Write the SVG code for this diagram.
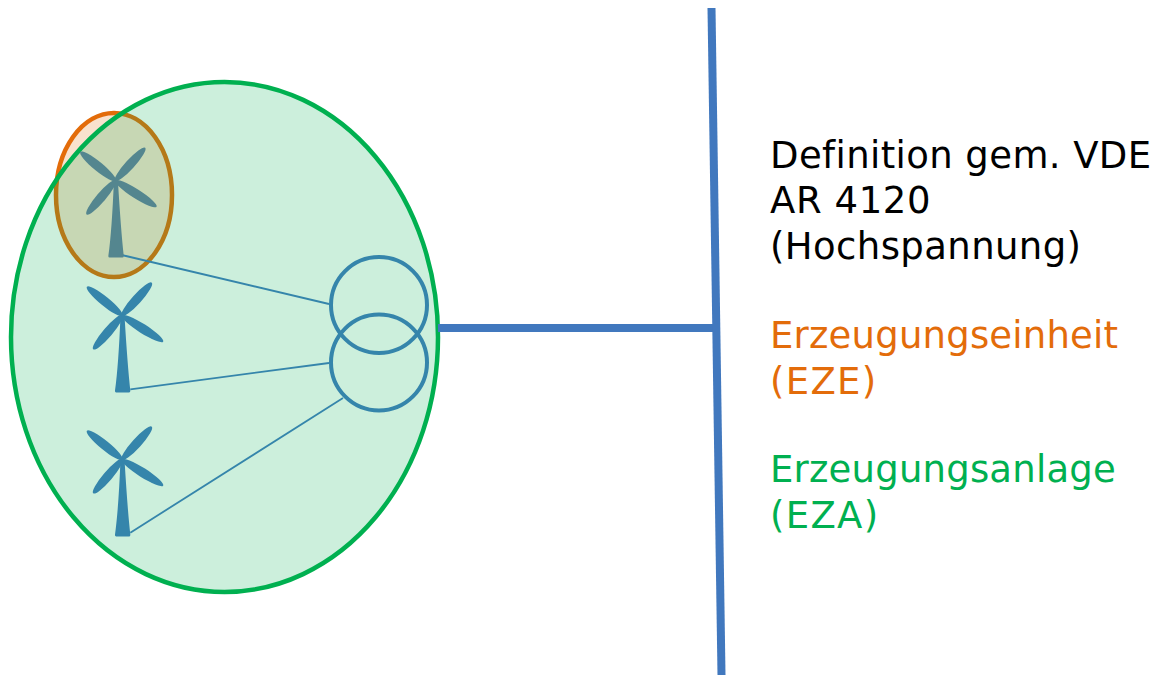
<svg xmlns="http://www.w3.org/2000/svg" width="1157" height="675" viewBox="0 0 1157 675">
<defs>
<g id="wt">
<path d="M-1.500 0 L2.500 0 Q5.500 50 8.300 75 Q8.500 77 7 77 L-5.800 77 Q-7.300 77 -7 75 Q-3.500 50 -1.500 0 Z"/>
<ellipse cx="-17.300" cy="-14.200" rx="23" ry="4.600" transform="rotate(39.200 -17.300 -14.200)"/>
<ellipse cx="14.700" cy="-16.200" rx="22.500" ry="4.600" transform="rotate(-47.800 14.700 -16.200)"/>
<ellipse cx="-14.200" cy="16.700" rx="22.500" ry="4.600" transform="rotate(-49.500 -14.200 16.700)"/>
<ellipse cx="20.500" cy="13" rx="24.500" ry="4.600" transform="rotate(32.400 20.500 13)"/>
</g>
</defs>
<style>
text{font-family:"DejaVu Sans",Verdana,sans-serif;font-size:37px;letter-spacing:.2px}
.t{fill:#3585ab}
.l{fill:none;stroke:#3585ab;stroke-width:1.800}
.w1{letter-spacing:.4px}
.w2{letter-spacing:.6px}
.w3{letter-spacing:1.300px}
</style>
<g id="eze"><ellipse cx="114" cy="195" rx="58" ry="82" fill="#e36c0a" fill-opacity=".2" stroke="#e36c0a" stroke-width="4.500"/></g>
<g id="eza"><ellipse cx="224.500" cy="337" rx="213.500" ry="255" fill="#00b050" fill-opacity=".2" stroke="#00b050" stroke-width="4.500"/></g>
<g id="connectors">
<path class="l" d="M121.700 255 L329 304 M130.300 389.300 L329 363 M130.300 532.700 L343 398"/>
<path d="M438 328 H716" fill="none" stroke="#4178be" stroke-width="8"/>
<path d="M711.500 8 L721.500 675" fill="none" stroke="#4178be" stroke-width="8"/>
</g>
<g id="turbine1" fill="#54868f"><use href="#wt" x="115.400" y="180.600"/></g>
<g id="turbine2" class="t"><use href="#wt" x="122" y="315.500"/></g>
<g id="turbine3" class="t"><use href="#wt" x="122" y="459.500"/></g>
<g id="transformer" fill="none" stroke="#3585ab" stroke-width="4">
<circle cx="379" cy="305" r="48"/><circle cx="379" cy="362.500" r="48"/>
</g>
<g id="labels">
<text x="770" y="168" class="w1">Definition gem. VDE</text>
<text x="770" y="213" class="w2">AR 4120</text>
<text x="770" y="259" class="w1">(Hochspannung)</text>
<text x="770" y="348" fill="#e36c0a">Erzeugungseinheit</text>
<text x="770" y="394" fill="#e36c0a" class="w3">(EZE)</text>
<text x="770" y="482" fill="#00b050">Erzeugungsanlage</text>
<text x="770" y="528" fill="#00b050" class="w3">(EZA)</text>
</g>
</svg>
